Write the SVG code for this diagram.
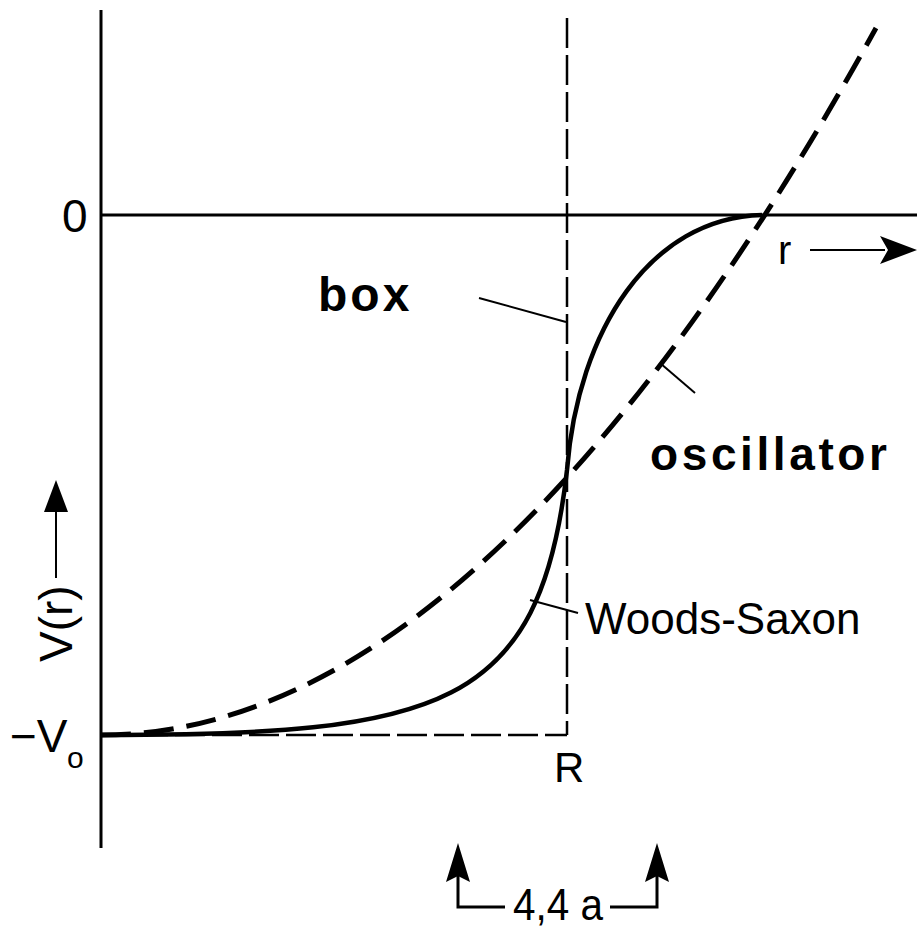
<svg xmlns="http://www.w3.org/2000/svg" width="917" height="928" viewBox="0 0 917 928">
<style>
.ax{stroke:#000;stroke-width:3;fill:none}
.box{stroke:#000;stroke-width:2.5;fill:none;stroke-dasharray:30 7}
.osc{stroke:#000;stroke-width:5;fill:none;stroke-dasharray:30 13}
.ws{stroke:#000;stroke-width:4.5;fill:none}
.lead{stroke:#000;stroke-width:2;fill:none}
.t{font-family:"Liberation Sans",Arial,sans-serif;fill:#000}
.b{font-family:"Liberation Sans",Arial,sans-serif;font-weight:bold;fill:#000}
</style>
<rect width="917" height="928" fill="#fff"/>
<g id="axes">
<line class="ax" x1="101" y1="10" x2="101" y2="848"/>
<line class="ax" x1="101" y1="215" x2="917" y2="215"/>
</g>
<g id="connectors">
<line class="box" x1="567" y1="18" x2="567" y2="735"/>
<line class="box" x1="101" y1="735" x2="567" y2="735"/>
<path class="osc" d="M101,735 Q485,735 876,28"/>
<path class="ws" d="M101,735 C440,735 540,710 567,470 C578,330 650,218 762,215"/>
<line class="lead" x1="479" y1="298" x2="566" y2="322"/>
<line class="lead" x1="660" y1="363" x2="695" y2="393"/>
<line class="lead" x1="530" y1="600" x2="578" y2="613"/>
<line class="lead" x1="56" y1="578" x2="56" y2="510"/>
<path d="M56,480 L68,512 L44,512 Z" fill="#000"/>
<line class="lead" x1="810" y1="250" x2="885" y2="250"/>
<path d="M917,250 L880,236 L888,250 L880,264 Z" fill="#000"/>
<polyline class="ax" points="458,870 458,907 505,907"/>
<path d="M458,843 L470,882 L458,876 L446,882 Z" fill="#000"/>
<polyline class="ax" points="610,907 657,907 657,870"/>
<path d="M657,843 L669,882 L657,876 L645,882 Z" fill="#000"/>
</g>
<g id="labels">
<text class="t" x="62" y="232" font-size="46">0</text>
<text class="b" x="318" y="311" font-size="48" letter-spacing="3">box</text>
<text class="b" x="650" y="470" font-size="46" letter-spacing="3.6">oscillator</text>
<text class="t" x="585" y="634" font-size="44">Woods-Saxon</text>
<text class="t" x="554" y="782" font-size="42">R</text>
<text class="t" x="10" y="752" font-size="46">−V</text>
<text class="t" x="67" y="768" font-size="30">o</text>
<text class="t" x="72" y="662" font-size="46" transform="rotate(-90 72 662)">V(r)</text>
<text class="t" x="778" y="264" font-size="40">r</text>
<text class="t" x="513" y="920" font-size="44" textLength="90" lengthAdjust="spacingAndGlyphs">4,4 a</text>
</g>
</svg>
